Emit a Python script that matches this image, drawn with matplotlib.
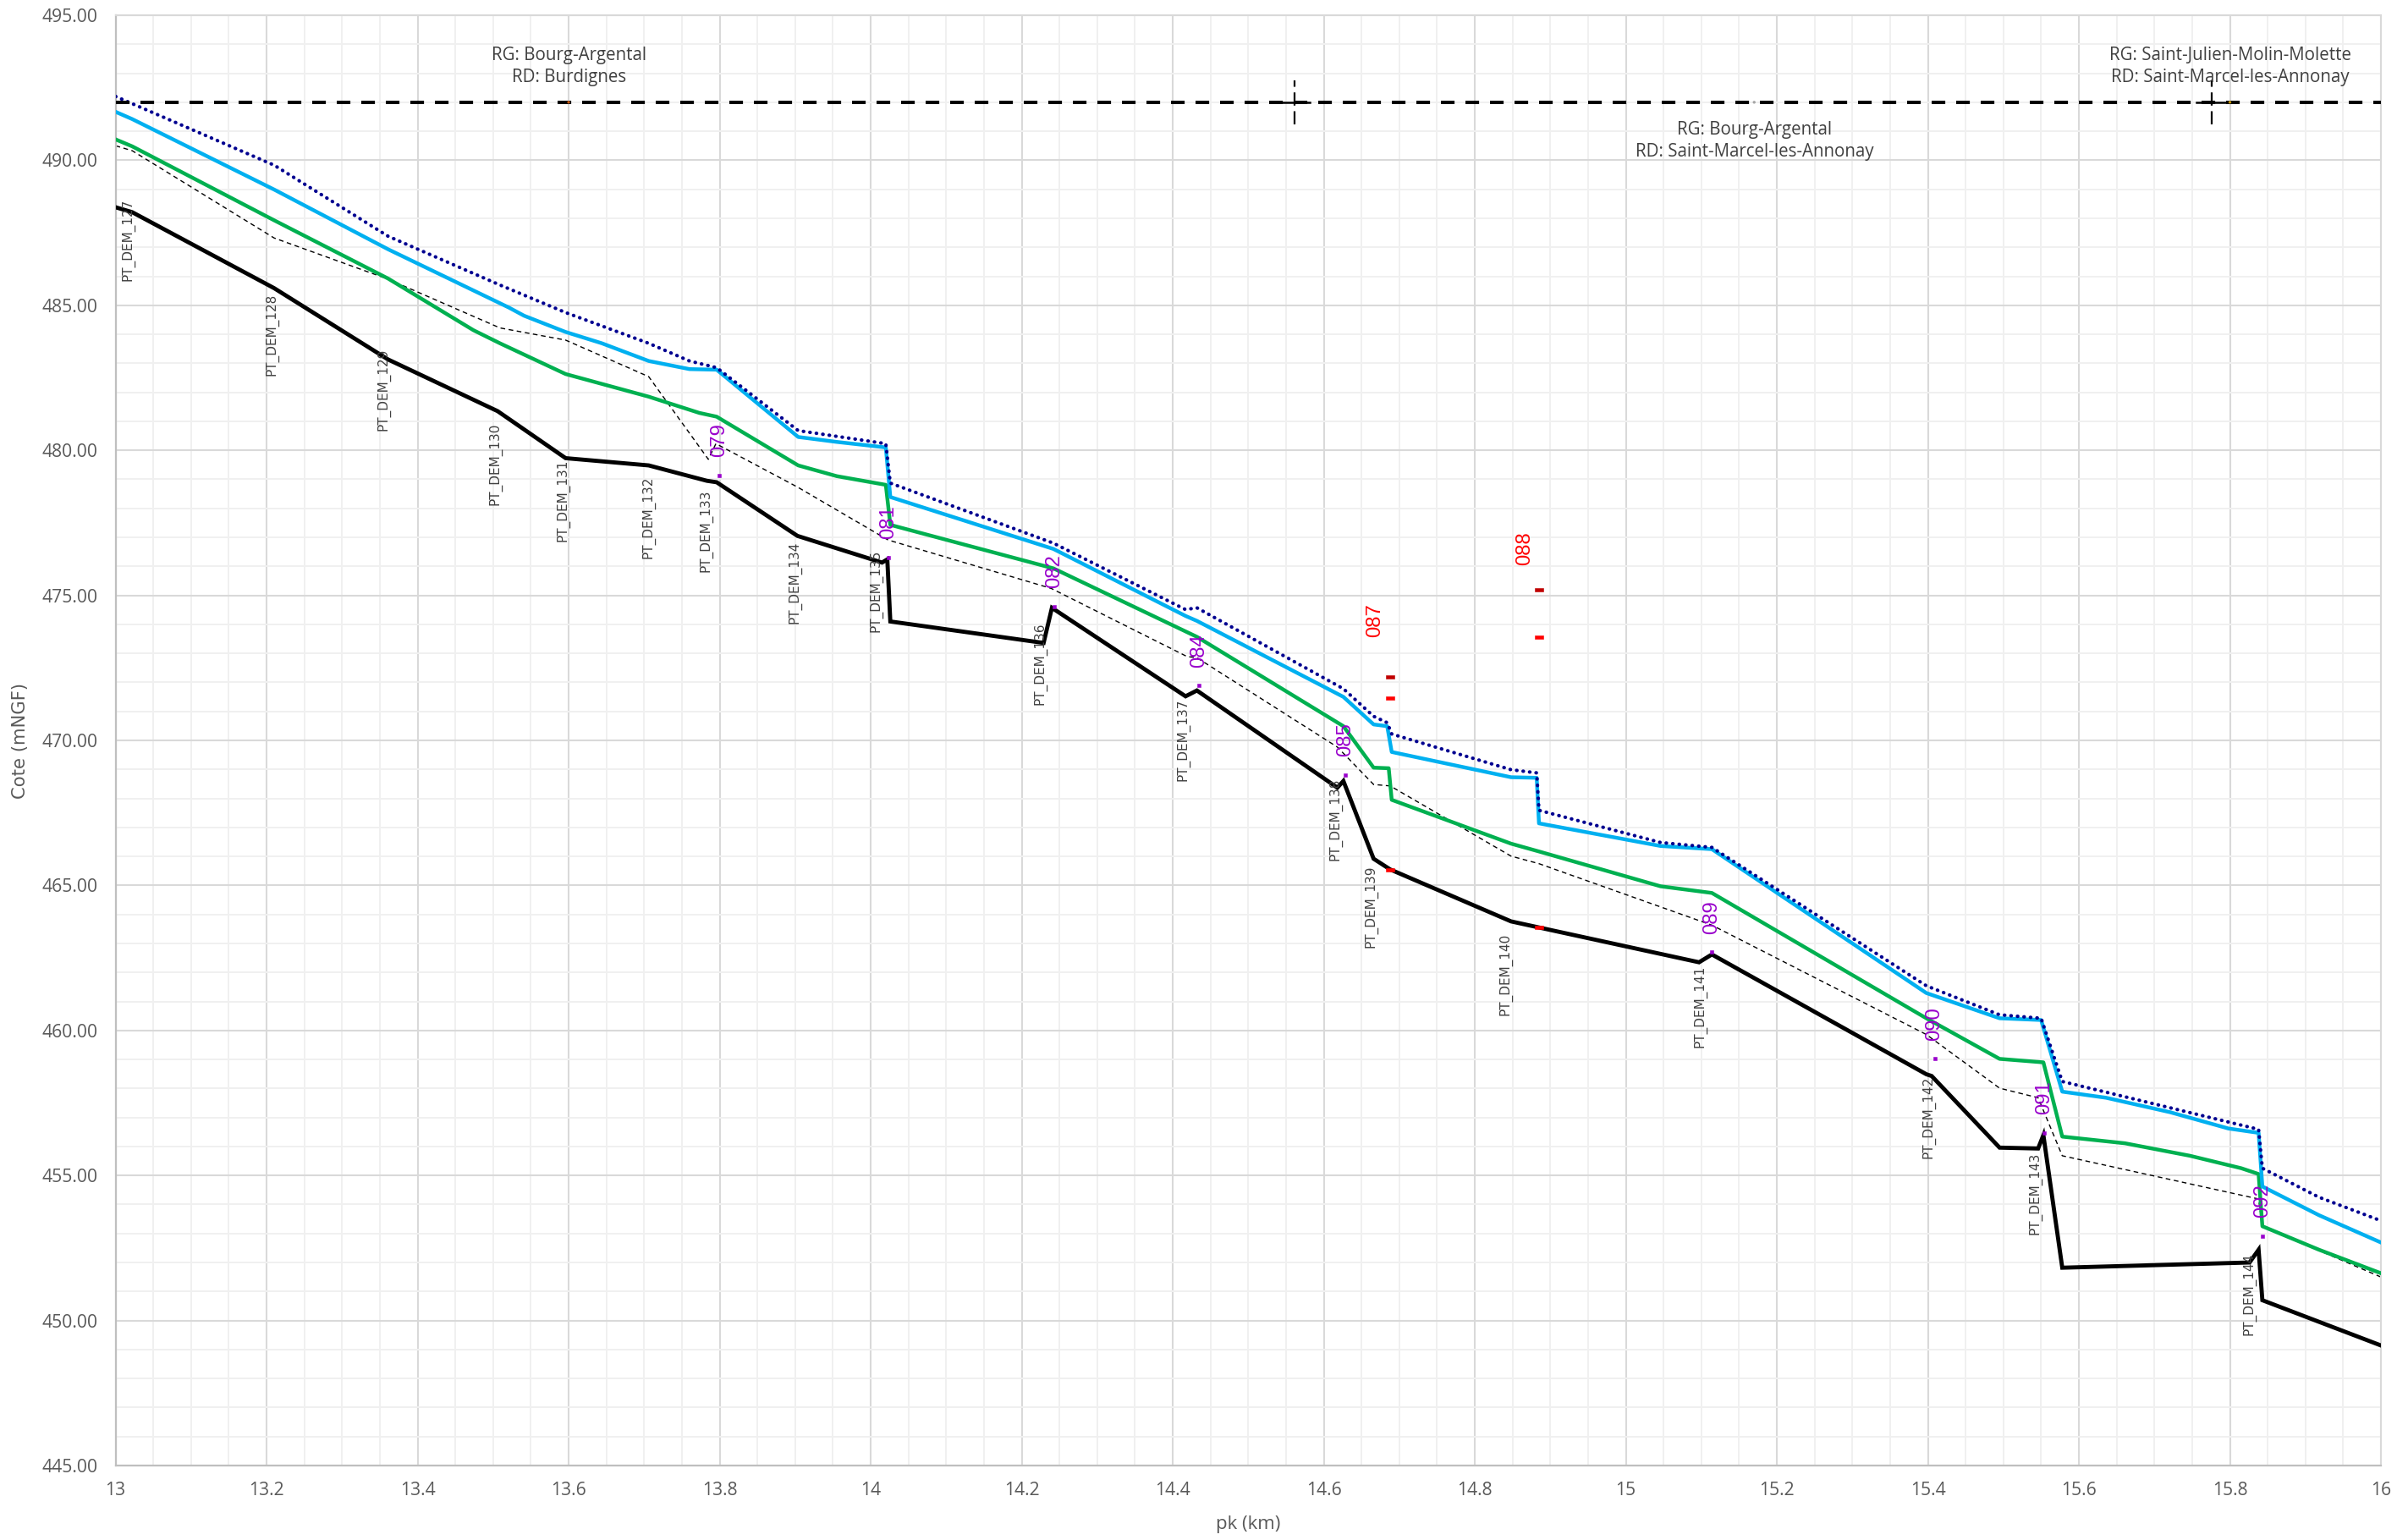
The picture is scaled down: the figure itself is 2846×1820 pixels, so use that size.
import matplotlib
matplotlib.use("Agg")
import matplotlib.pyplot as plt
from matplotlib.ticker import MultipleLocator, FuncFormatter
from matplotlib import font_manager
from matplotlib.path import Path

# ---------------- data ----------------
bed_km = [13.000, 13.022, 13.210, 13.361, 13.506, 13.596, 13.706, 13.783, 13.796, 13.903,
          14.015, 14.022, 14.026, 14.229, 14.240, 14.417, 14.432, 14.618, 14.626, 14.666,
          14.688, 14.848, 14.885, 15.097, 15.114, 15.398, 15.405, 15.495, 15.546, 15.553,
          15.578, 15.826, 15.838, 15.843, 16.000]
bed_z = [488.38, 488.21, 485.59, 483.13, 481.35, 479.73, 479.48, 478.95, 478.90, 477.05,
         476.13, 476.24, 474.10, 473.36, 474.57, 471.52, 471.72, 468.37, 468.60, 465.92,
         465.55, 463.76, 463.55, 462.35, 462.62, 458.49, 458.43, 455.96, 455.93, 456.39,
         451.82, 452.00, 452.44, 450.70, 449.14]

old_km = [13.000, 13.022, 13.210, 13.361, 13.509, 13.596, 13.706, 13.785, 13.795, 13.904,
          14.023, 14.239, 14.419, 14.432, 14.618, 14.666, 14.688, 14.848, 14.885, 15.114,
          15.398, 15.495, 15.546, 15.578, 15.838, 15.843, 16.000]
old_z = [490.50, 490.33, 487.32, 485.90, 484.22, 483.80, 482.54, 479.69, 480.23, 478.72,
         476.91, 475.24, 472.89, 472.85, 469.77, 468.48, 468.43, 466.01, 465.75, 463.63,
         459.86, 458.01, 457.68, 455.68, 454.19, 453.25, 451.50]

green_km = [13.000, 13.022, 13.210, 13.361, 13.474, 13.509, 13.596, 13.706, 13.773, 13.796,
            13.904, 13.955, 14.020, 14.026, 14.242, 14.432, 14.626, 14.666, 14.686, 14.690,
            14.848, 14.885, 15.046, 15.114, 15.398, 15.495, 15.553, 15.578, 15.661, 15.747,
            15.815, 15.838, 15.843, 15.918, 16.000]
green_z = [490.72, 490.48, 487.93, 485.92, 484.14, 483.69, 482.63, 481.85, 481.29, 481.16,
           479.48, 479.11, 478.81, 477.43, 475.93, 473.57, 470.49, 469.06, 469.04, 467.95,
           466.44, 466.17, 464.97, 464.74, 460.42, 459.02, 458.90, 456.34, 456.11, 455.68,
           455.25, 455.05, 453.25, 452.44, 451.63]

blue_km = [13.000, 13.022, 13.210, 13.361, 13.521, 13.541, 13.596, 13.644, 13.706, 13.760,
           13.796, 13.904, 13.955, 14.020, 14.026, 14.242, 14.417, 14.432, 14.626, 14.666,
           14.684, 14.690, 14.848, 14.882, 14.885, 15.046, 15.114, 15.398, 15.495, 15.550,
           15.578, 15.636, 15.721, 15.798, 15.838, 15.843, 15.918, 16.000]
blue_z = [491.67, 491.42, 488.99, 486.93, 484.92, 484.64, 484.08, 483.69, 483.08, 482.80,
          482.78, 480.46, 480.29, 480.10, 478.39, 476.60, 474.29, 474.12, 471.50, 470.55,
          470.49, 469.60, 468.73, 468.71, 467.14, 466.36, 466.25, 461.29, 460.42, 460.36,
          457.89, 457.68, 457.18, 456.62, 456.47, 454.62, 453.63, 452.69]

dot_km = [13.000, 13.210, 13.361, 13.509, 13.596, 13.706, 13.760, 13.796, 13.904, 14.020,
          14.026, 14.242, 14.417, 14.432, 14.626, 14.666, 14.684, 14.690, 14.848, 14.882,
          14.885, 15.046, 15.114, 15.398, 15.495, 15.550, 15.578, 15.838, 15.843, 15.918,
          16.000]
dot_z = [492.20, 489.83, 487.38, 485.70, 484.75, 483.69, 483.08, 482.85, 480.68, 480.23,
         478.87, 476.80, 474.51, 474.57, 471.78, 470.83, 470.61, 470.22, 468.99, 468.88,
         467.59, 466.48, 466.31, 461.54, 460.54, 460.42, 458.24, 456.59, 455.25, 454.25,
         453.44]

# PT_DEM labels (label anchor: km, top elevation)
pt_names = ["PT_DEM_127", "PT_DEM_128", "PT_DEM_129", "PT_DEM_130", "PT_DEM_131", "PT_DEM_132",
            "PT_DEM_133", "PT_DEM_134", "PT_DEM_135", "PT_DEM_136", "PT_DEM_137", "PT_DEM_138",
            "PT_DEM_139", "PT_DEM_140", "PT_DEM_141", "PT_DEM_142", "PT_DEM_143", "PT_DEM_144"]
pt_km = [13.017, 13.207, 13.355, 13.503, 13.593, 13.706, 13.782, 13.900, 14.007, 14.224,
         14.414, 14.615, 14.663, 14.841, 15.098, 15.401, 15.542, 15.826]
pt_z = [488.67, 485.42, 483.52, 480.96, 479.70, 479.11, 478.64, 476.86, 476.58, 474.07,
        471.44, 468.71, 465.69, 463.35, 462.25, 458.43, 455.81, 452.32]

# purple points
ouv_names = ["079", "081", "082", "084", "085", "089", "090", "091", "092"]
ouv_km = [13.799, 14.024, 14.243, 14.435, 14.629, 15.114, 15.409, 15.554, 15.843]
ouv_z = [479.14, 476.30, 474.61, 471.89, 468.80, 462.70, 459.02, 456.46, 452.91]

# red points
red_names = ["087", "088"]
red_label_km = [14.668, 14.866]
red_label_z = [473.57, 476.03]
red_dark_km = [14.688, 14.885]
red_dark_z = [472.18, 475.18]
red_km = [14.688, 14.885, 14.688, 14.885]
red_z = [471.46, 473.57, 465.55, 463.55]

# commune limits
limit_z = 492.0
cross_km = [14.561, 15.776]
cross_dz = 0.76
cross_dkm = 0.02
commune_km = [13.60, 15.17, 15.80]
commune_z = [493.23, 490.66, 493.23]
commune_txt = ["RG: Bourg-Argental\nRD: Burdignes",
               "RG: Bourg-Argental\nRD: Saint-Marcel-les-Annonay",
               "RG: Saint-Julien-Molin-Molette\nRD: Saint-Marcel-les-Annonay"]
commune_dot_colors = ["#C55A11", "#A6A6A6", "#BF9000"]

x_min, x_max = 13, 16
y_min, y_max = 445, 495

# ---------------- fonts ----------------
avail = {f.name for f in font_manager.fontManager.ttflist}
def pick(*names):
    for n in names:
        if n in avail:
            return n
    return "DejaVu Sans"
F_UI = pick("Open Sans", "Lato", "Liberation Sans")
F_NARROW = pick("Liberation Sans Narrow", "Liberation Sans")
F_PT = pick("DejaVu Sans")

# ---------------- figure ----------------
W, H, DPI = 2846, 1820, 200
fig = plt.figure(figsize=(W / DPI, H / DPI), dpi=DPI)
L, R, T, B = 136.6, 2814.0, 18.0, 1732.0
ax = fig.add_axes([L / W, 1 - B / H, (R - L) / W, (B - T) / H])

ax.set_xlim(x_min, x_max)
ax.set_ylim(y_min, y_max)
ax.xaxis.set_major_locator(MultipleLocator(0.2))
ax.xaxis.set_minor_locator(MultipleLocator(0.05))
ax.yaxis.set_major_locator(MultipleLocator(5))
ax.yaxis.set_minor_locator(MultipleLocator(1))
ax.xaxis.set_major_formatter(FuncFormatter(lambda v, p: f"{v:g}"))
ax.yaxis.set_major_formatter(FuncFormatter(lambda v, p: f"{v:.2f}"))
ax.grid(which="major", color="#D9D9D9", lw=0.75, zorder=0)
ax.grid(which="minor", color="#F0F0F0", lw=0.7, zorder=0)
ax.set_axisbelow(True)
ax.tick_params(which="both", length=0)
ax.tick_params(axis="x", pad=7, labelsize=7.6, labelcolor="#595959")
ax.tick_params(axis="y", pad=7.5, labelsize=7.6, labelcolor="#595959")
for lab in ax.get_xticklabels() + ax.get_yticklabels():
    lab.set_fontfamily(F_UI)
for s in ["top", "right"]:
    ax.spines[s].set_color("#D9D9D9")
    ax.spines[s].set_linewidth(0.75)
for s in ["left", "bottom"]:
    ax.spines[s].set_color("#BFBFBF")
    ax.spines[s].set_linewidth(0.8)

# ---------------- lines ----------------
ax.plot(old_km, old_z, color="black", lw=0.5, ls=(0, (4, 3)), zorder=2)
ax.plot(bed_km, bed_z, color="black", lw=1.75, zorder=3, solid_joinstyle="miter")
ax.plot(green_km, green_z, color="#00B050", lw=1.6, zorder=4)
ax.plot(blue_km, blue_z, color="#00B0F0", lw=1.6, zorder=5)
ax.plot(dot_km, dot_z, color="#000090", lw=1.5, ls=(0, (0.1, 1.75)),
        dash_capstyle="round", zorder=6)

# commune limit line
ax.plot([x_min, x_max], [limit_z, limit_z], color="black", lw=1.45,
        ls=(0, (4, 3.2)), dash_capstyle="butt", zorder=6)
for ck in cross_km:
    ax.plot([ck, ck], [limit_z - cross_dz, limit_z + cross_dz], color="black", lw=0.8,
            ls=(0, (7, 3)), zorder=7)
    ax.plot([ck - cross_dkm, ck + cross_dkm], [limit_z, limit_z], color="black", lw=0.9, zorder=7)
ax.scatter(commune_km, [limit_z] * 3, s=1.5, c=commune_dot_colors, zorder=8, linewidths=0)
for ck, cz, txt in zip(commune_km, commune_z, commune_txt):
    ax.text(ck, cz, txt, ha="center", va="center", fontsize=7.4, color="#404040",
            family=F_UI, linespacing=1.3, zorder=9)

# ---------------- markers ----------------
rect = Path([(-1, -0.45), (1, -0.45), (1, 0.45), (-1, 0.45), (-1, -0.45)],
            [Path.MOVETO, Path.LINETO, Path.LINETO, Path.LINETO, Path.CLOSEPOLY])
ax.plot(ouv_km, ouv_z, ls="none", marker="s", ms=1.7, mfc="#9900CC", mec="#9900CC",
        mew=0.2, zorder=9)
ax.plot(red_dark_km, red_dark_z, ls="none", marker=rect, ms=3.4, mfc="#C00000",
        mec="#C00000", mew=0.2, zorder=9)
ax.plot(red_km, red_z, ls="none", marker=rect, ms=3.4, mfc="#FF0000",
        mec="#FF0000", mew=0.2, zorder=9)

for name, k, z in zip(ouv_names, ouv_km, ouv_z):
    ax.annotate(name, (k, z), xytext=(0, 7.8), textcoords="offset points", rotation=90,
                ha="center", va="bottom", fontsize=8.6, color="#9900CC",
                family=F_NARROW, zorder=10)
for name, k, z in zip(red_names, red_label_km, red_label_z):
    ax.text(k, z, name, rotation=90, ha="center", va="bottom", fontsize=8.6,
            color="#FF0000", family=F_NARROW, zorder=10)

for name, k, z in zip(pt_names, pt_km, pt_z):
    ax.text(k, z, name, rotation=90, ha="center", va="top", fontsize=5.5,
            color="#404040", family=F_PT, zorder=10)

# ---------------- axis titles ----------------
fig.text(24 / W, 1 - 875 / H, "Cote (mNGF)", rotation=90, ha="center", va="center",
         fontsize=7.6, color="#595959", family=F_PT)
fig.text((L + R) / 2 / W, 1 - 1802 / H, "pk (km)", ha="center", va="center",
         fontsize=8.0, color="#595959", family=F_UI)

fig.savefig("out.png", dpi=DPI, facecolor="white")
